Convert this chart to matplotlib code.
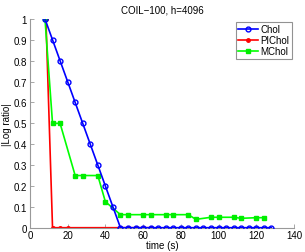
import matplotlib
matplotlib.use("Agg")
import matplotlib.pyplot as plt

chol_x = [8, 12, 16, 20, 24, 28, 32, 36, 40, 44, 48, 52, 56, 60, 64, 68, 72, 76, 80,
          84, 88, 92, 96, 100, 104, 108, 112, 116, 120, 124, 128]
chol_y = [1.0, 0.9, 0.8, 0.7, 0.6, 0.5, 0.4, 0.3, 0.2, 0.1, 0.0] + [0.0] * 20

pichol_x = [8.5, 12, 16, 20, 48, 52, 56, 60, 64]
pichol_y = [1.0, 0.0, 0.0, 0.0, 0.0, 0.0, 0.0, 0.0, 0.0]

mchol_x = [8, 12, 16, 24, 28, 36, 40, 48, 52, 60, 64, 72, 76, 84, 88, 96, 100, 108, 112, 120, 124]
mchol_y = [1.0, 0.5, 0.5, 0.25, 0.25, 0.25, 0.125, 0.0625, 0.0625, 0.0625, 0.0625, 0.0625,
           0.0625, 0.0625, 0.04, 0.05, 0.05, 0.05, 0.045, 0.048, 0.048]

xticks = [0, 20, 40, 60, 80, 100, 120, 140]
yticks = [0, 0.1, 0.2, 0.3, 0.4, 0.5, 0.6, 0.7, 0.8, 0.9, 1]

plt.rcParams['font.family'] = ['Liberation Sans', 'DejaVu Sans']
fig = plt.figure(figsize=(3.05, 2.53), dpi=100)
ax = fig.add_axes([0.098, 0.096, 0.866, 0.825])

ax.plot(pichol_x, pichol_y, color='#ff0000', lw=1.2, marker='o', ms=2.5,
        mec='#ff0000', mfc='#ff0000', label='PIChol', zorder=2)
ax.plot(mchol_x, mchol_y, color='#00ff00', lw=1.2, marker='s', ms=2.2,
        mec='#00ee00', mfc='#00ee00', label='MChol', zorder=3)
ax.plot(chol_x, chol_y, color='#0000ff', lw=1.2, marker='o', ms=3.5,
        mec='#0000ff', mfc='none', mew=1.0, label='Chol', zorder=4)

ax.set_xlim(0, 140)
ax.set_ylim(0, 1)
ax.set_xticks(xticks)
ax.set_yticks(yticks)
ax.set_yticklabels(['0', '0.1', '0.2', '0.3', '0.4', '0.5', '0.6', '0.7', '0.8', '0.9', '1'])
for s in ['top', 'right']:
    ax.spines[s].set_visible(False)
for s in ['left', 'bottom']:
    ax.spines[s].set_color('#999999')
    ax.spines[s].set_linewidth(0.8)
ax.tick_params(direction='in', length=3, width=0.6, color='#999999', labelsize=7, pad=2)
ax.set_xlabel('time (s)', fontsize=7, labelpad=0)
ax.set_ylabel('|Log ratio|', fontsize=7, labelpad=1)
ax.set_title('COIL\u2212100, h=4096', fontsize=7, pad=5)

h, l = ax.get_legend_handles_labels()
order = [2, 0, 1]
leg = ax.legend([h[i] for i in order], [l[i] for i in order], loc='upper right',
                bbox_to_anchor=(0.992, 0.986), fontsize=7, frameon=True, fancybox=False,
                handlelength=2.0, handletextpad=0.3, borderpad=0.25, labelspacing=0.1,
                borderaxespad=0.0)
leg.get_frame().set_edgecolor('#777777')
leg.get_frame().set_linewidth(0.8)

fig.savefig('out.png', dpi=100)
